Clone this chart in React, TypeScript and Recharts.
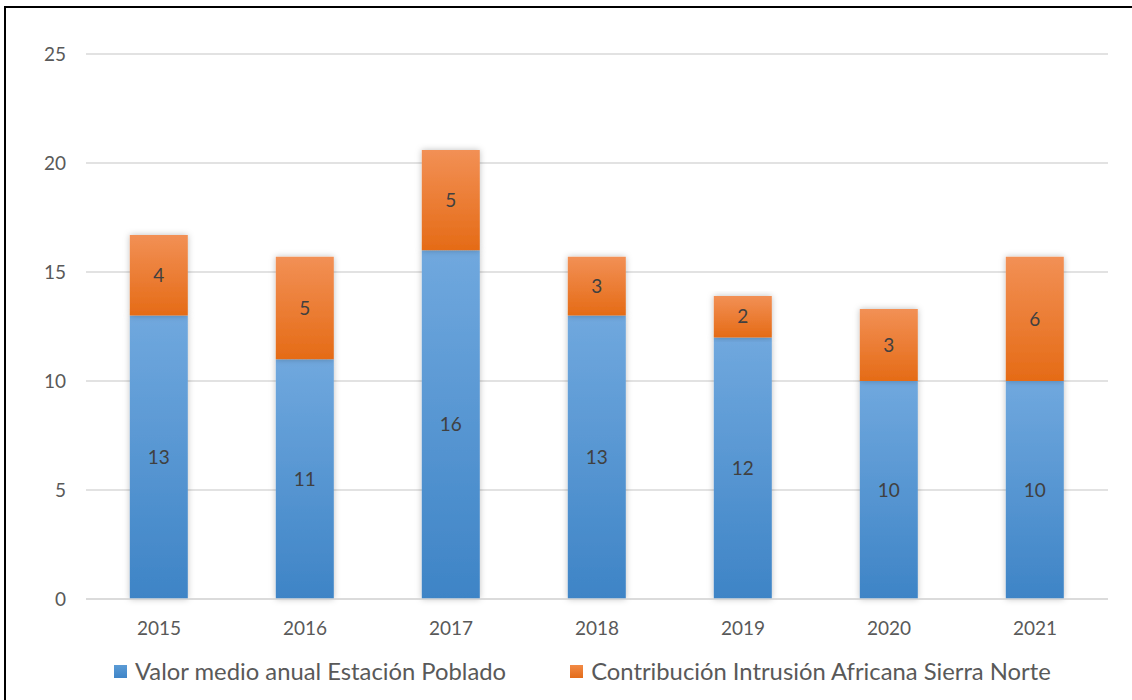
import { BarChart, Bar, XAxis, YAxis, CartesianGrid, Legend, LabelList } from 'recharts';

const years = ['2015', '2016', '2017', '2018', '2019', '2020', '2021'];
const valorMedio = [13, 11, 16, 13, 12, 10, 10];
const contribucion = [3.7, 4.7, 4.6, 2.7, 1.9, 3.3, 5.7];
const yTicks = [0, 5, 10, 15, 20, 25];

const BLUE_NAME = 'Valor medio anual Estación Poblado';
const ORANGE_NAME = 'Contribución Intrusión Africana Sierra Norte';

const data = years.map((y, i) => ({ year: y, valor: valorMedio[i], contrib: contribucion[i] }));

const font = 'Lato, "Open Sans", sans-serif';
const textColor = '#595959';

const renderLegend = () => (
    <div style={{ display: 'flex', alignItems: 'center', fontFamily: font, fontSize: 23.8, color: textColor, lineHeight: '28px' }}>
        <span style={{ width: 13, height: 13, background: 'linear-gradient(#5b9bd5, #3f85c8)', marginRight: 8 }} />
        <span style={{ marginRight: 64 }}>{BLUE_NAME}</span>
        <span style={{ width: 13, height: 13, background: 'linear-gradient(#f28a45, #e36c1a)', marginRight: 8 }} />
        <span>{ORANGE_NAME}</span>
    </div>
);

export default function App() {
    return (
        <div style={{ position: 'fixed', left: 0, top: 0, width: 1132, height: 700, background: '#fff' }}>
            <div style={{ position: 'absolute', left: 4, top: 6, right: -10, bottom: -10, borderTop: '2px solid #000', borderLeft: '2px solid #000' }} />
            <div style={{ position: 'absolute', left: 0, top: 0 }}>
                <BarChart width={1132} height={700} data={data} margin={{ top: 54, right: 24, left: 0, bottom: 27 }} barCategoryGap="30%">
                    <defs>
                        <linearGradient id="blueGrad" x1="0" y1="0" x2="0" y2="1">
                            <stop offset="0%" stopColor="#70a8de" />
                            <stop offset="100%" stopColor="#3e84c6" />
                        </linearGradient>
                        <linearGradient id="orangeGrad" x1="0" y1="0" x2="0" y2="1">
                            <stop offset="0%" stopColor="#f29055" />
                            <stop offset="100%" stopColor="#e56b16" />
                        </linearGradient>
                        <filter id="barShadow" x="-30%" y="-10%" width="160%" height="120%">
                            <feDropShadow dx="0" dy="0" stdDeviation="3" floodColor="#000" floodOpacity="0.25" />
                        </filter>
                    </defs>
                    <CartesianGrid vertical={false} stroke="#d9d9d9" strokeWidth={1.5} />
                    <XAxis
                        dataKey="year"
                        axisLine={{ stroke: '#d9d9d9', strokeWidth: 1.5 }}
                        tickLine={false}
                        tickSize={0}
                        tickMargin={23}
                        height={46}
                        tick={{ fill: textColor, fontSize: 19, fontFamily: font }}
                    />
                    <YAxis
                        width={86}
                        domain={[0, 25]}
                        ticks={yTicks}
                        axisLine={false}
                        tickLine={false}
                        tickSize={0}
                        tickMargin={20}
                        tick={{ fill: textColor, fontSize: 19, fontFamily: font }}
                    />
                    <Legend verticalAlign="bottom" content={renderLegend} wrapperStyle={{ left: 114, bottom: 15, width: 1010 }} />
                    <Bar dataKey="valor" name={BLUE_NAME} stackId="a" fill="url(#blueGrad)" filter="url(#barShadow)" isAnimationActive={false}>
                        <LabelList dataKey="valor" position="center" formatter={(v: any) => Math.round(v)} fill="#404040" fontSize={19} fontFamily={font} />
                    </Bar>
                    <Bar dataKey="contrib" name={ORANGE_NAME} stackId="a" fill="url(#orangeGrad)" filter="url(#barShadow)" isAnimationActive={false}>
                        <LabelList dataKey="contrib" position="center" formatter={(v: any) => Math.round(v)} fill="#404040" fontSize={19} fontFamily={font} />
                    </Bar>
                </BarChart>
            </div>
        </div>
    );
}
